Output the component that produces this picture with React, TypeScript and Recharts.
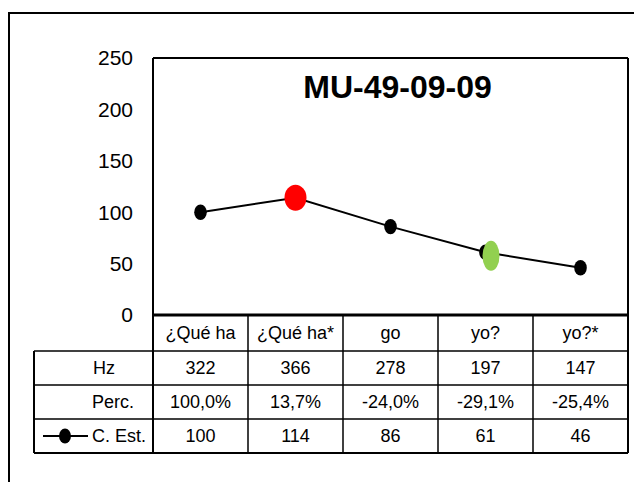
import React from 'react';
import { LineChart, Line, XAxis, YAxis } from 'recharts';

const categories = ['¿Qué ha', '¿Qué ha*', 'go', 'yo?', 'yo?*'];
const hzValues = [322, 366, 278, 197, 147];
const percValues = ['100,0%', '13,7%', '-24,0%', '-29,1%', '-25,4%'];
const estValues = [100, 114, 86, 61, 46];
const yTicks = [0, 50, 100, 150, 200, 250];
const rowLabels = ['Hz', 'Perc.', 'C. Est.'];
const title = 'MU-49-09-09';

const data = categories.map((cat, i) => ({
  cat,
  hz: hzValues[i],
  perc: percValues[i],
  est: estValues[i],
}));

const FONT = '"Liberation Sans", Arial, sans-serif';
const COL_W = 95;
const HDR_W = 119;
const ROW_BOTTOMS = [36, 70, 104, 138];
const TEXT_Y = [18, 53, 87, 121];

const markerStyle: Record<number, { fill: string; rx: number; ry: number; dx: number; dy: number }> = {
  1: { fill: '#FF0000', rx: 11, ry: 13, dx: 0, dy: 0 },
  3: { fill: '#92D050', rx: 8.5, ry: 15, dx: 5.5, dy: 3.5 },
};

function TableTick(props: any) {
  const { x, y, payload } = props;
  const i = categories.indexOf(payload.value);
  if (i < 0) return <g />;
  const left = x - COL_W / 2;
  const right = x + COL_W / 2;
  const isLast = i === categories.length - 1;
  const bottom = y + ROW_BOTTOMS[3];
  const textProps = { fontFamily: FONT, fontSize: 18, fill: '#000', dy: '0.355em' } as any;
  const hdrLeft = left - HDR_W;
  return (
    <g>
      {ROW_BOTTOMS.map((rb, k) => (
        <line key={'h' + k} x1={left} x2={right} y1={y + rb} y2={y + rb} stroke="#000" strokeWidth={k === 3 ? 2 : 1.5} />
      ))}
      <line x1={right} x2={right} y1={y} y2={bottom} stroke="#000" strokeWidth={isLast ? 2 : 1.5} />
      {i === 0 && (
        <g>
          <line x1={left} x2={left} y1={y} y2={bottom} stroke="#000" strokeWidth={2} />
          {ROW_BOTTOMS.map((rb, k) => (
            <line key={'hh' + k} x1={hdrLeft} x2={left} y1={y + rb} y2={y + rb} stroke="#000" strokeWidth={k === 3 ? 2 : 1.5} />
          ))}
          <line x1={hdrLeft} x2={hdrLeft} y1={y + ROW_BOTTOMS[0]} y2={bottom} stroke="#000" strokeWidth={2} />
          <text x={hdrLeft + 70} y={y + TEXT_Y[1]} textAnchor="middle" {...textProps}>{rowLabels[0]}</text>
          <text x={hdrLeft + 79} y={y + TEXT_Y[2]} textAnchor="middle" {...textProps}>{rowLabels[1]}</text>
          <line x1={hdrLeft + 9} x2={hdrLeft + 54} y1={y + TEXT_Y[3]} y2={y + TEXT_Y[3]} stroke="#000" strokeWidth={2} />
          <ellipse cx={hdrLeft + 31} cy={y + TEXT_Y[3]} rx={6} ry={7.5} fill="#000" />
          <text x={hdrLeft + 58} y={y + TEXT_Y[3]} textAnchor="start" {...textProps}>{rowLabels[2]}</text>
        </g>
      )}
      <text x={x} y={y + TEXT_Y[0]} textAnchor="middle" {...textProps}>{categories[i]}</text>
      <text x={x} y={y + TEXT_Y[1]} textAnchor="middle" {...textProps}>{hzValues[i]}</text>
      <text x={x} y={y + TEXT_Y[2]} textAnchor="middle" {...textProps}>{percValues[i]}</text>
      <text x={x} y={y + TEXT_Y[3]} textAnchor="middle" {...textProps}>{estValues[i]}</text>
    </g>
  );
}

function YTick(props: any) {
  const { x, y, payload } = props;
  return (
    <text x={x} y={y} dy="0.355em" textAnchor="end" fontFamily={FONT} fontSize={21} fill="#000">
      {payload.value}
    </text>
  );
}

function Dot(props: any) {
  const { cx, cy, index } = props;
  if (cx == null || cy == null) return <g key={'d' + index} />;
  const hl = markerStyle[index];
  return (
    <g key={'d' + index}>
      {(!hl || hl.dx !== 0 || hl.dy !== 0) && <ellipse cx={cx} cy={cy} rx={6.3} ry={7.7} fill="#000" />}
      {hl && <ellipse cx={cx + hl.dx} cy={cy + hl.dy} rx={hl.rx} ry={hl.ry} fill={hl.fill} />}
    </g>
  );
}

export default function App() {
  return (
    <div style={{ position: 'relative', width: 634, height: 474, overflow: 'hidden', background: '#fff' }}>
      <div
        style={{
          position: 'absolute',
          left: 0,
          top: 4,
          width: 700,
          height: 600,
          borderTop: '2px solid #000',
          borderLeft: '2px solid #000',
          boxSizing: 'border-box',
        }}
      />
      <div style={{ position: 'absolute', left: 0, top: 0 }}>
        <LineChart width={634} height={474} data={data} margin={{ top: 49, right: 13, bottom: 0, left: 0 }}>
          <XAxis
            xAxisId="b"
            dataKey="cat"
            height={167}
            padding={{ left: 47.5, right: 47.5 }}
            interval={0}
            tickLine={false}
            tickSize={0}
            tickMargin={0}
            axisLine={{ stroke: '#000', strokeWidth: 3 }}
            tick={TableTick}
          />
          <XAxis
            xAxisId="t"
            dataKey="cat"
            orientation="top"
            height={1}
            tick={false}
            tickLine={false}
            axisLine={{ stroke: '#000', strokeWidth: 2 }}
          />
          <YAxis
            yAxisId="l"
            domain={[0, 250]}
            ticks={yTicks}
            interval={0}
            width={145}
            tickLine={false}
            tickSize={0}
            tickMargin={20}
            axisLine={{ stroke: '#000', strokeWidth: 2 }}
            tick={YTick}
          />
          <YAxis
            yAxisId="r"
            orientation="right"
            domain={[0, 250]}
            width={1}
            tick={false}
            tickLine={false}
            axisLine={{ stroke: '#000', strokeWidth: 2 }}
          />
          <Line
            xAxisId="b"
            yAxisId="l"
            dataKey="est"
            stroke="#000"
            strokeWidth={2}
            dot={Dot}
            activeDot={false}
            isAnimationActive={false}
          />
        </LineChart>
      </div>
      <div
        style={{
          position: 'absolute',
          left: 389.5 - 200,
          top: 63,
          width: 400,
          textAlign: 'center',
          fontFamily: FONT,
          fontWeight: 'bold',
          fontSize: 32,
          lineHeight: '32px',
          color: '#000',
          whiteSpace: 'nowrap',
        }}
      >
        {title}
      </div>
    </div>
  );
}
